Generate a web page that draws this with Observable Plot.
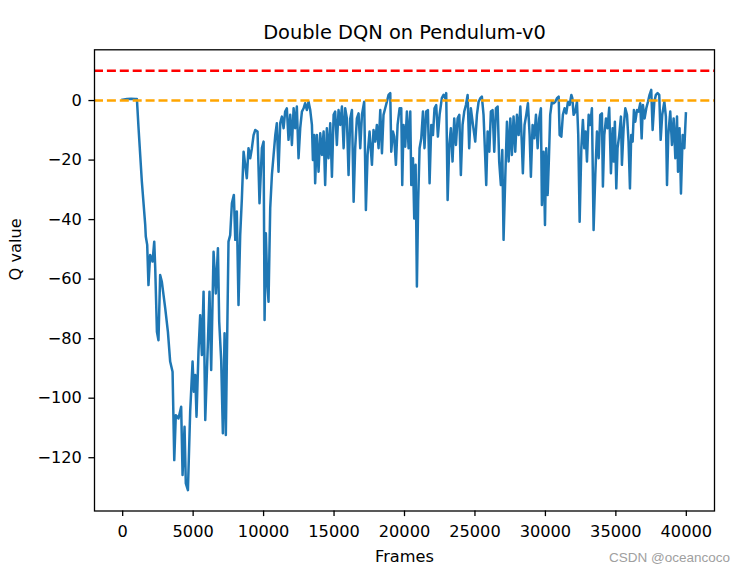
<!DOCTYPE html>
<html><head><meta charset="utf-8">
<script src="https://cdn.jsdelivr.net/npm/d3@7"></script>
<script src="https://cdn.jsdelivr.net/npm/@observablehq/plot@0.6"></script>
<style>
html,body{margin:0;padding:0;background:#fff;}
#chart{width:745px;height:570px;}
</style></head><body><div id="chart"></div>
<script>
const title = "Double DQN on Pendulum-v0";
const xLabel = "Frames";
const yLabel = "Q value";
const watermark = "CSDN @oceancoco";
const xTicks = [0, 5000, 10000, 15000, 20000, 25000, 30000, 35000, 40000];
const yTicks = [-120, -100, -80, -60, -40, -20, 0];
const refValues = [10, 0];
const refColors = ["red", "orange"];

const frames = [
0,300,600,900,1010,1120,1360,1600,1640,1740,1830,1950,2120,2240,2310,2430,2540,2660,2780,3020,
3210,3370,3540,3660,3770,3960,4150,4250,4390,4480,4630,4790,4960,5050,5150,5240,5380,5500,5620,5740,
5860,6050,6160,6280,6450,6610,6760,6850,6990,7110,7230,7320,7510,7630,7750,7890,7990,8100,8220,8340,
8460,8580,8810,8930,9050,9170,9290,
9410,9570,9710,9880,10000,10070,10160,10260,10350,10470,10590,10710,10830,10940,11060,11180,11300,11420,11530,11650,
11770,11890,12010,12130,12240,12360,12480,12600,12720,12840,12950,13070,13190,13310,13430,13500,13590,13660,13780,13900,
14020,14140,14260,14370,14490,14610,14730,14850,14970,15080,15200,15320,15440,15560,15680,15790,15910,16030,16150,16270,
16390,16500,16620,
16740,16860,16980,17140,17260,17380,17520,17690,17800,17920,18040,18160,18280,18400,18510,18630,18750,18870,18990,19060,
19180,19270,19390,19510,19650,19770,19840,19930,20050,20170,20290,20410,20480,20600,20690,20790,20880,20970,21070,21190,
21310,21420,21540,21660,21780,21900,22020,22130,22250,22370,22490,22650,22770,22890,22960,23060,23180,23290,23410,23530,
23650,23770,23890,24000,24120,24240,24360,24480,24590,24710,24860,
25020,25140,25260,25380,25490,25610,25730,25800,25900,26020,26130,26250,26370,26490,26610,26720,26840,26940,27030,27150,
27270,27390,27510,27620,27740,27860,27980,28100,28220,28330,28400,28520,28640,28760,28880,28970,29090,29210,29330,29450,
29560,29680,29750,29870,29970,30060,30160,30250,30340,30460,30580,30700,30820,30940,31010,31130,31240,31360,31480,31600,
31720,31840,31910,32000,32120,32240,32330,32430,32550,32660,32760,32850,32950,33070,33180,33300,33420,33540,
33660,33780,33890,34010,34080,34180,34300,34410,34530,34650,34770,34840,34930,35030,35120,35240,35360,35430,35550,35670,
35790,35900,36000,36090,36190,36280,36380,36500,36610,36730,36830,36920,37040,37160,37280,37390,37510,37610,37730,37840,
37960,38080,38180,38290,38440,38550,38630,38720,38860,38980,39100,39220,39340,39410,39520,39620,39740,39860,39970
];
const qValues = [
0.3,0.5,0.6,0.5,0.5,-8.8,-27.2,-41.8,-45.7,-48.5,-62.0,-51.9,-54.1,-47.4,-56.4,-77.7,-80.5,-58.6,-60.9,-69.8,
-77.7,-87.7,-91.1,-120.8,-105.7,-106.8,-102.9,-125.8,-109.6,-128.6,-130.9,-104.5,-87.7,-97.8,-92.2,-106.2,-84.4,-72.1,-85.5,-64.2,
-107.3,-81.0,-64.2,-90.5,-50.8,-64.8,-49.6,-74.3,-87.2,-111.8,-78.2,-112.4,-47.4,-45.2,-34.5,-31.7,-46.8,-37.3,-68.7,-45.2,
-32.8,-17.2,-26.1,-16.0,-19.4,-16.0,-11.6,
-9.9,-10.4,-34.5,-16.0,-13.8,-73.7,-44.6,-60.9,-67.6,-36.2,-25.0,-18.3,-11.6,-7.6,-23.9,-7.6,-5.4,-9.3,-3.7,-2.6,
-13.2,-4.8,-14.9,-2.6,-9.3,-2.0,-19.4,-9.3,-3.7,-2.6,-0.9,-3.2,-0.4,-3.2,-8.2,-20.0,-11.6,-27.8,-11.6,-23.9,
-11.0,-18.3,-10.4,-28.4,-9.3,-19.4,-7.6,-25.6,-4.8,-3.7,-14.9,-3.2,-8.2,-2.0,-16.0,-2.6,-6.0,-25.0,-6.0,-3.2,
-34.0,-16.0,-6.0,
-4.3,-16.0,-4.8,-0.4,-36.8,-18.3,-10.4,-21.6,-9.9,-13.8,-8.2,-16.0,-3.2,-17.7,-4.8,-2.6,-0.4,1.9,2.5,-17.2,
-10.4,-12.1,-21.6,-8.2,-2.6,-2.6,-28.4,-8.2,-15.5,-3.7,-16.0,-3.7,-28.4,-19.4,-39.6,-21.6,-62.5,-34.0,-16.0,-12.7,
-3.7,-16.0,-3.7,-3.2,-27.8,-8.2,-11.6,-2.6,-1.5,-12.1,-4.8,0.8,1.9,0.8,2.5,-33.4,-14.9,-9.3,-20.5,-6.0,
-14.9,-6.0,-4.8,-25.0,-8.2,-3.7,-1.5,1.9,-16.0,-2.6,-8.2,
-13.8,-4.8,-0.4,0.8,1.3,-4.8,-19.4,-28.4,-10.4,-17.2,-3.7,-3.2,-17.2,-2.6,-2.0,-20.5,-28.4,-16.6,-46.8,-26.1,
-7.1,-20.5,-6.0,-18.3,-5.4,-17.2,-4.8,-11.6,-2.0,-14.9,-24.4,-8.2,-4.8,-0.9,-11.6,-25.6,-8.2,-12.7,-4.8,-16.0,
-6.0,-2.6,-35.1,-17.2,-41.8,-16.0,-31.7,-19.4,-4.8,-0.4,-0.9,-0.4,0.8,1.3,-11.6,-12.1,-4.8,-2.6,-4.3,-0.4,
-1.5,1.9,0.8,-4.8,-3.7,-0.4,-11.6,-40.7,-16.0,-6.5,-16.0,-10.4,-20.5,-4.8,-8.2,-2.6,-43.5,-25.0,
-10.4,-19.4,-4.8,-4.3,-28.9,-11.6,-6.0,-9.3,-2.4,-24.4,-9.3,-20.5,-7.1,-29.5,-16.0,-11.6,-5.4,-21.6,-9.3,-2.6,
-4.8,-13.8,-29.5,-11.6,-13.8,-3.2,-7.1,-3.2,-3.7,-0.9,-12.7,-1.5,-6.0,-2.6,-0.4,1.9,3.6,-9.9,-0.4,1.9,
2.5,1.9,-13.2,-4.8,-0.4,-5.4,-28.4,-11.6,-3.7,-14.9,-6.0,-19.4,-5.4,-23.9,-9.3,-31.2,-11.6,-16.0,-4.3
];

const data = frames.map((f, i) => ({frame: f, q: qValues[i]}));
const font = "DejaVu Sans";

const chart = Plot.plot({
  width: 745,
  height: 570,
  marginLeft: 94,
  marginRight: 31,
  marginTop: 49.3,
  marginBottom: 59.5,
  style: {fontFamily: font, background: "white", color: "black", overflow: "visible"},
  x: {domain: [-2000, 42000], label: null},
  y: {domain: [-137.9, 17.05], label: null},
  marks: [
    Plot.line(data, {x: "frame", y: "q", stroke: "#1f77b4", strokeWidth: 2.5, strokeLinejoin: "round", strokeLinecap: "square"}),
    Plot.ruleY([refValues[0]], {stroke: refColors[0], strokeWidth: 2.4, strokeDasharray: "9 3.9"}),
    Plot.ruleY([refValues[1]], {stroke: refColors[1], strokeWidth: 2.4, strokeDasharray: "9 3.9"}),
    Plot.frame({stroke: "black", strokeWidth: 1.3}),
    Plot.axisX({ticks: xTicks, tickFormat: d => String(d), tickSize: 5.6, tickPadding: 9, fontSize: 16.2, strokeWidth: 1.3, label: null}),
    Plot.axisY({ticks: yTicks, tickFormat: d3.format("d"), tickSize: 5.6, tickPadding: 7, fontSize: 16.2, strokeWidth: 1.3, label: null}),
    Plot.text([title], {text: d => d, frameAnchor: "top", dy: -11, lineAnchor: "bottom", fontSize: 19.4, fill: "black"}),
    Plot.text([xLabel], {text: d => d, frameAnchor: "bottom", dy: 51, lineAnchor: "bottom", fontSize: 16.2, fill: "black"}),
    Plot.text([yLabel], {text: d => d, frameAnchor: "left", dx: -74, rotate: -90, lineAnchor: "bottom", fontSize: 16.2, fill: "black"}),
    Plot.text([watermark], {text: d => d, frameAnchor: "bottom-right", dx: 15.5, dy: 50.5, textAnchor: "end", lineAnchor: "bottom", fontSize: 13.5, fill: "#a0a0a0", fontFamily: "Liberation Sans"})
  ]
});
document.getElementById("chart").appendChild(chart);
</script>
</body></html>
